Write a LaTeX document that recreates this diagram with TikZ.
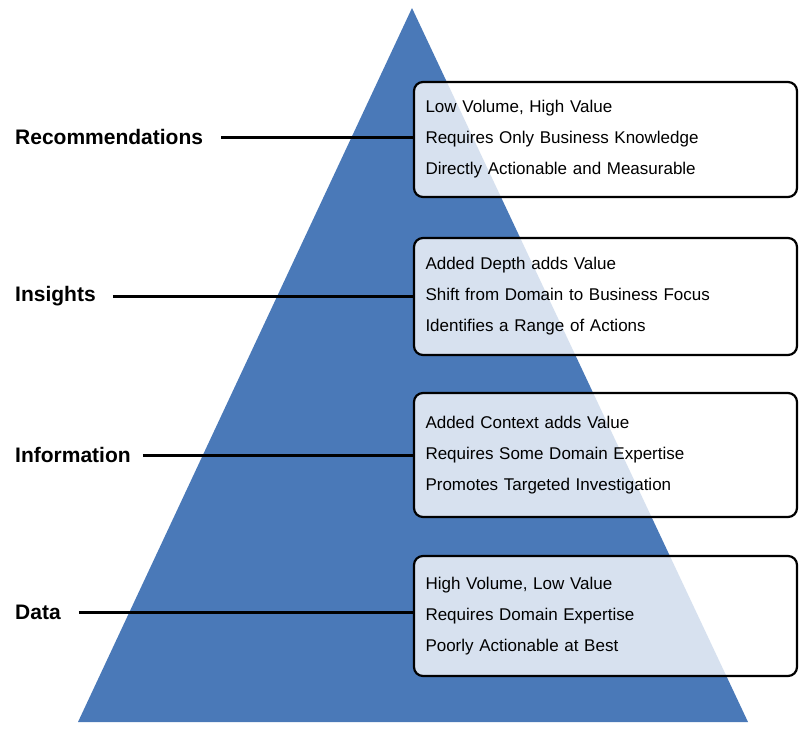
\documentclass[tikz,border=0pt]{standalone}
\usepackage{fontspec}
\setmainfont{Liberation Sans}
\begin{document}
\begin{tikzpicture}[x=1pt,y=-1pt]
	\tikzset{every node/.style={inner sep=0pt}}
	\tikzset{infobox/.style={draw=black,line width=2.2pt,rounded corners=9pt,fill=white,fill opacity=0.78,text opacity=1,minimum width=383pt,align=left,text width=360pt,font=\fontsize{17}{31}\selectfont}}
	\tikzset{levellabel/.style={anchor=west,font=\bfseries\fontsize{21}{24}\selectfont}}
	\definecolor{pyramidblue}{HTML}{4A79B8}
	\useasboundingbox (0,0) rectangle (800,728);
	\fill [pyramidblue] (412,8) -- (748,722) -- (78,722) -- cycle;
	% boxes
	\node [infobox,minimum height=115pt] (recbox) at (605.5,139.5) {Low Volume, High Value\\Requires Only Business Knowledge\\Directly Actionable and Measurable};
	\node [infobox,minimum height=117pt] (insbox) at (605.5,296.5) {Added Depth adds Value\\Shift from Domain to Business Focus\\Identifies a Range of Actions};
	\node [infobox,minimum height=124pt] (infbox) at (605.5,455) {Added Context adds Value\\Requires Some Domain Expertise\\Promotes Targeted Investigation};
	\node [infobox,minimum height=120pt] (datbox) at (605.5,616) {High Volume, Low Value\\Requires Domain Expertise\\Poorly Actionable at Best};
	% labels
	\node [levellabel] (rec) at (15,137) {Recommendations};
	\node [levellabel] (ins) at (15,296) {Insights};
	\node [levellabel] (inf) at (15,455) {Information};
	\node [levellabel] (dat) at (15,612) {Data};
	\draw [line width=3pt] ([xshift=18pt]rec.east) -- (recbox.west |- rec.east);
	\draw [line width=3pt] ([xshift=17pt]ins.east) -- (insbox.west |- ins.east);
	\draw [line width=3pt] ([xshift=12pt]inf.east) -- (infbox.west |- inf.east);
	\draw [line width=3pt] ([xshift=18pt]dat.east) -- (datbox.west |- dat.east);
\end{tikzpicture}
\end{document}
